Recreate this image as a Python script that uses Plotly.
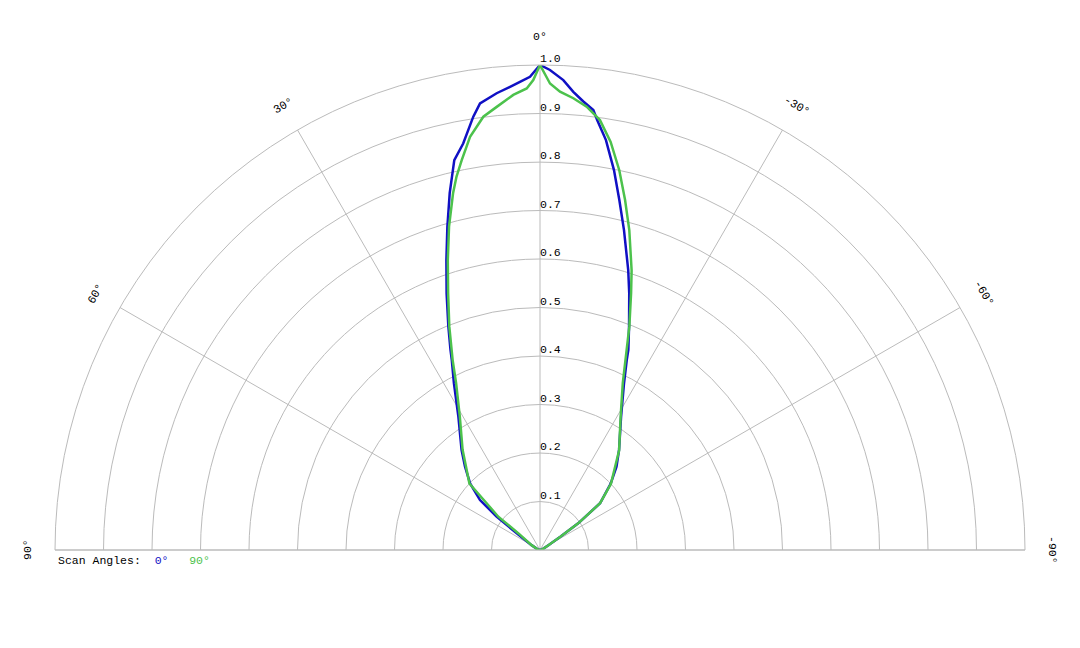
import numpy as np
import plotly.graph_objects as go

# scan at 0 deg (blue), theta in degrees, r normalised
theta_0 = [90, 75, 60, 54.4, 52.4, 50.2, 46.4, 42.0, 38.1, 31.5, 27.3, 24.9, 24.1,
           22.3, 20.0, 17.9, 16.0, 14.2, 12.4, 10.7, 8.75, 7.65, 5.42, 3.7, 2.45, 1.21,
           0, -1.19, -2.84, -4.16, -5.52, -6.91, -7.59, -9.14, -11.02, -12.77, -14.71,
           -17.5, -19.18, -21.73, -23.82, -24.53, -26.74, -31.28, -38.3, -42.6, -46.8,
           -52.1, -55.1, -57, -60, -75, -90]
r_0 = [0, 0.005, 0.02, 0.059, 0.113, 0.161, 0.199, 0.231, 0.262, 0.322, 0.387, 0.432, 0.452,
       0.498, 0.563, 0.628, 0.693, 0.759, 0.823, 0.853, 0.904, 0.929, 0.946, 0.957, 0.966, 0.976,
       1.0, 0.990, 0.970, 0.947, 0.929, 0.914, 0.894, 0.856, 0.798, 0.740, 0.682,
       0.605, 0.560, 0.496, 0.451, 0.431, 0.385, 0.322, 0.263, 0.233, 0.200,
       0.157, 0.096, 0.05, 0.02, 0.005, 0]

# scan at 90 deg (green)
theta_90 = [90, 75, 60, 52.4, 51.4, 46.7, 37.7, 31.0, 26.7, 24.7, 22.1, 19.7, 17.65, 15.7,
            13.7, 12.6, 11.35, 9.61, 7.45, 5.58, 3.36, 1.65, 0.82, 0, -1.23, -2.5, -4.22,
            -6.01, -7.94, -9.82, -11.79, -13.65, -15.59, -18.13, -19.52, -21.8,
            -23.44, -26.39, -31.19, -38.5, -47.0, -52.1, -55.1, -57, -60, -75, -90]
r_90 = [0, 0.005, 0.02, 0.056, 0.110, 0.200, 0.261, 0.321, 0.385, 0.431, 0.497, 0.562, 0.627, 0.693,
        0.757, 0.789, 0.820, 0.864, 0.901, 0.918, 0.940, 0.952, 0.969, 1.0, 0.962, 0.946, 0.934,
        0.919, 0.895, 0.854, 0.800, 0.743, 0.685, 0.607, 0.562, 0.496,
        0.449, 0.384, 0.321, 0.262, 0.200, 0.157, 0.096, 0.05, 0.02, 0.005, 0]

r_ticks = [0.1, 0.2, 0.3, 0.4, 0.5, 0.6, 0.7, 0.8, 0.9, 1.0]
ang_ticks = [90, 60, 30, 0, -30, -60, -90]

blue = '#1010c4'
green = '#4cc24c'
grid = '#bbbbbb'
mono = 'Liberation Mono, Courier New, monospace'
fsize = 11.5

fig = go.Figure()
fig.add_trace(go.Scatterpolar(r=r_0, theta=theta_0, mode='lines',
                              line=dict(color=blue, width=2.5), hoverinfo='skip'))
fig.add_trace(go.Scatterpolar(r=r_90, theta=theta_90, mode='lines',
                              line=dict(color=green, width=2.5), hoverinfo='skip'))
fig.add_trace(go.Scatterpolar(r=r_ticks, theta=[0]*len(r_ticks), mode='text',
                              text=['%.1f' % v for v in r_ticks], textposition='top right',
                              textfont=dict(family=mono, size=fsize, color='#000'),
                              hoverinfo='skip'))

# angular labels, rotated along the arc
W, H = 970., 485.
lab_r = 513.
annos = []
for t in ang_ticks:
    a = np.radians(t)
    annos.append(dict(x=(H - lab_r*np.sin(a))/W, y=lab_r*np.cos(a)/H, xref='paper', yref='paper',
                      text='%d°' % t, showarrow=False, textangle=-t,
                      font=dict(family=mono, size=fsize, color='#000'),
                      xanchor='center', yanchor='middle'))

nb = '\u00a0'
annos.append(dict(x=0.001, y=-0.021, xref='paper', yref='paper', showarrow=False,
                  xanchor='left', yanchor='middle',
                  font=dict(family=mono, size=fsize, color='#000'),
                  text='Scan Angles:' + nb*2 + '<span style="color:%s">0°</span>' % blue
                       + nb*3 + '<span style="color:%s">90°</span>' % green))

# page has an 8px body margin, so shift the plot area back by that
fig.update_layout(
    width=1080, height=648,
    margin=dict(l=47, r=63, t=57, b=106),
    paper_bgcolor='white',
    showlegend=False,
    annotations=annos,
    polar=dict(
        sector=[0, 180],
        bgcolor='white',
        radialaxis=dict(range=[0, 1], dtick=0.1, showticklabels=False, ticks='',
                        showline=False, gridcolor=grid, gridwidth=1),
        angularaxis=dict(rotation=90, direction='counterclockwise', tickmode='array',
                         tickvals=ang_ticks, showticklabels=False, ticks='',
                         gridcolor=grid, gridwidth=1, showline=True, linecolor=grid,
                         linewidth=1),
    ),
)

fig.write_html("out.html")
